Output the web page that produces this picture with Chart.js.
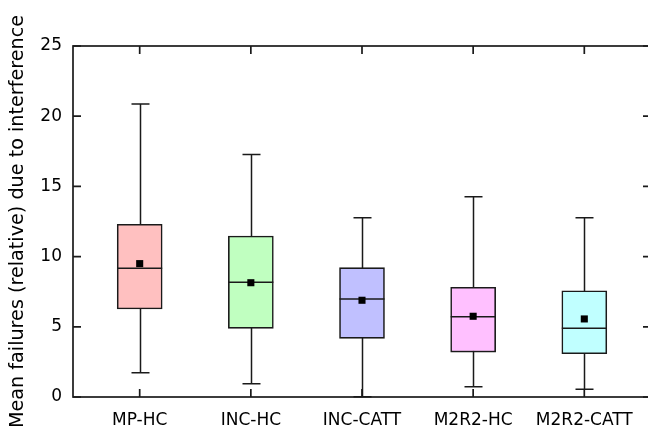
<!DOCTYPE html>
<html>
<head>
<meta charset="utf-8">
<script src="https://cdn.jsdelivr.net/npm/chart.js@4/dist/chart.umd.min.js"></script>
<style>
  html, body { margin: 0; padding: 0; background: #fff; overflow: hidden; }
  canvas { display: block; }
</style>
</head>
<body>
<canvas class="js-chart" width="656" height="437"></canvas>
<script>
const categories = ['MP-HC', 'INC-HC', 'INC-CATT', 'M2R2-HC', 'M2R2-CATT'];
const whiskerLow = [1.73, 0.95, 0.02, 0.73, 0.55];
const lowerQuartile = [6.27, 4.89, 4.18, 3.2, 3.08];
const medians = [9.17, 8.17, 6.98, 5.72, 4.89];
const upperQuartile = [12.3, 11.47, 9.21, 7.81, 7.57];
const whiskerHigh = [20.87, 17.28, 12.77, 14.27, 12.77];
const means = [9.5, 8.14, 6.89, 5.75, 5.56];
const boxColors = ['#ffc0c0', '#c0ffc0', '#c0c0ff', '#ffc0ff', '#c0ffff'];

const context = document.querySelector('.js-chart').getContext('2d');
const FONT = { family: 'DejaVu Sans', size: 17 };
const TITLE_FONT = { family: 'DejaVu Sans', size: 19.2 };
const INK = '#1a1a1a';
const BOX_WIDTH = 45;
const CAP_WIDTH = 18;
const TICK_LEN = 8;

// whiskers, medians, frame and inward ticks, all placed through the chart scales
const boxPlot = {
  id: 'boxPlot',
  beforeDatasetsDraw(chart) {
    const { ctx, scales: { x, y } } = chart;
    ctx.save();
    ctx.strokeStyle = INK;
    ctx.lineWidth = 1.5;
    categories.forEach((_, i) => {
      const px = Math.round(x.getPixelForValue(i)) + 0.5;
      const lo = y.getPixelForValue(whiskerLow[i]);
      const hi = y.getPixelForValue(whiskerHigh[i]);
      ctx.beginPath();
      ctx.moveTo(px, lo);
      ctx.lineTo(px, hi);
      ctx.moveTo(px - CAP_WIDTH / 2, lo);
      ctx.lineTo(px + CAP_WIDTH / 2, lo);
      ctx.moveTo(px - CAP_WIDTH / 2, hi);
      ctx.lineTo(px + CAP_WIDTH / 2, hi);
      ctx.stroke();
    });
    ctx.restore();
  },
  afterDatasetDraw(chart, args) {
    if (args.meta.type !== 'bar') return;
    const { ctx, scales: { x, y } } = chart;
    ctx.save();
    ctx.strokeStyle = INK;
    ctx.lineWidth = 1.5;
    categories.forEach((_, i) => {
      const px = x.getPixelForValue(i);
      const py = y.getPixelForValue(medians[i]);
      ctx.beginPath();
      ctx.moveTo(px - BOX_WIDTH / 2, py);
      ctx.lineTo(px + BOX_WIDTH / 2, py);
      ctx.stroke();
    });
    ctx.restore();
  },
  afterDraw(chart) {
    const { ctx, chartArea: a, scales: { x, y } } = chart;
    ctx.save();
    ctx.strokeStyle = INK;
    ctx.lineWidth = 1.7;
    ctx.strokeRect(a.left, a.top, a.right - a.left, a.bottom - a.top);
    ctx.beginPath();
    y.ticks.forEach(t => {
      const py = y.getPixelForValue(t.value);
      ctx.moveTo(a.left, py);
      ctx.lineTo(a.left + TICK_LEN, py);
      ctx.moveTo(a.right, py);
      ctx.lineTo(a.right - TICK_LEN, py);
    });
    x.ticks.forEach(t => {
      const px = x.getPixelForValue(t.value);
      ctx.moveTo(px, a.bottom);
      ctx.lineTo(px, a.bottom - TICK_LEN);
      ctx.moveTo(px, a.top);
      ctx.lineTo(px, a.top + TICK_LEN);
    });
    ctx.stroke();
    ctx.restore();
  },
};

new Chart(context, {
  type: 'bar',
  data: {
    datasets: [
      {
        type: 'scatter',
        order: 0,
        data: means.map((m, i) => ({ x: i, y: m })),
        pointStyle: 'rect',
        radius: 5,
        backgroundColor: '#000',
        borderColor: '#000',
        borderWidth: 0,
      },
      {
        type: 'bar',
        order: 1,
        data: categories.map((_, i) => ({ x: i, y: [lowerQuartile[i], upperQuartile[i]] })),
        backgroundColor: boxColors,
        borderColor: INK,
        borderWidth: 1.6,
        borderSkipped: false,
        barThickness: BOX_WIDTH,
      },
    ],
  },
  options: {
    responsive: false,
    animation: false,
    layout: { padding: { top: 46, right: 2, left: 0, bottom: 0 } },
    plugins: {
      legend: { display: false },
      tooltip: { enabled: false },
    },
    scales: {
      x: {
        type: 'linear',
        min: -0.6,
        max: 4.6,
        offset: false,
        grid: { display: false },
        border: { display: false },
        ticks: {
          stepSize: 1,
          includeBounds: false,
          autoSkip: false,
          maxRotation: 0,
          padding: 5,
          color: '#000',
          font: FONT,
          callback(value) {
            return categories[value] ?? '';
          },
        },
        afterFit(scale) {
          scale.height = 40;
          scale.paddingLeft = 0;
          scale.paddingRight = 0;
        },
      },
      y: {
        min: 0,
        max: 25,
        grid: { display: false },
        border: { display: false },
        ticks: {
          stepSize: 5,
          padding: 3,
          color: '#000',
          font: FONT,
        },
        title: {
          display: true,
          text: 'Mean failures (relative) due to interference',
          color: '#000',
          font: TITLE_FONT,
          padding: { top: 6, bottom: 0 },
        },
        afterFit(scale) {
          scale.width = 73;
        },
      },
    },
  },
  plugins: [boxPlot],
});
</script>
</body>
</html>
